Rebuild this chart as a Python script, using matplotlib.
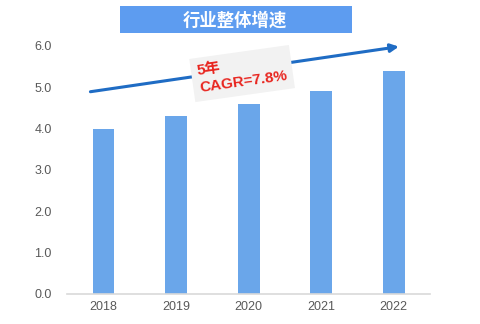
import matplotlib
matplotlib.use("Agg")
from matplotlib import pyplot as plt

plt.rcParams['font.family'] = ['Liberation Sans', 'Noto Sans CJK SC', 'DejaVu Sans']

years = ['2018', '2019', '2020', '2021', '2022']
values = [4.0, 4.3, 4.6, 4.9, 5.4]
yticks = [0.0, 1.0, 2.0, 3.0, 4.0, 5.0, 6.0]
title = '行业整体增速'
cagr_text = '5年\nCAGR=7.8%'

fig = plt.figure(figsize=(4.8, 3.24), dpi=100)
ax = fig.add_axes([0.14, 0.0926, 0.756, 0.766])

x = list(range(len(years)))
ax.bar(x, values, width=0.3, color='#6aa6ea', zorder=2)

ax.set_xlim(-0.5, 4.5)
ax.set_ylim(0, 6.0)
ax.set_xticks(x)
ax.set_xticklabels(years)
ax.set_yticks(yticks)
ax.set_yticklabels(['%.1f' % v for v in yticks])
ax.tick_params(length=0, labelsize=9, labelcolor='#595959')
ax.tick_params(axis='x', pad=5)
ax.tick_params(axis='y', pad=11)
for s in ['top', 'right', 'left']:
    ax.spines[s].set_visible(False)
ax.spines['bottom'].set_color('#d9d9d9')
ax.spines['bottom'].set_linewidth(1.2)

# trend arrow
ax.annotate('', xy=(4.07, 5.98), xytext=(-0.18, 4.89),
            arrowprops=dict(arrowstyle='-|>', color='#1f6cc4', lw=2.2,
                            mutation_scale=12, shrinkA=0, shrinkB=0),
            annotation_clip=False, zorder=3)

# CAGR label box
ax.text(1.91, 5.33, cagr_text, rotation=8, color='#e8251f', fontsize=11,
        fontweight='bold', ha='center', va='center', ma='left',
        linespacing=1.3, zorder=4,
        bbox=dict(boxstyle='square,pad=0.4', fc='#f2f2f2', ec='none'))

# title banner
fig.patches.append(plt.Rectangle((0.25, 0.898), 0.483, 0.083,
                                 transform=fig.transFigure, fc='#5d9cf0',
                                 ec='none', zorder=0))
fig.text(0.49, 0.94, title, color='white', fontsize=12.5, fontweight='bold',
         ha='center', va='center')

fig.savefig('out.png', dpi=100)
